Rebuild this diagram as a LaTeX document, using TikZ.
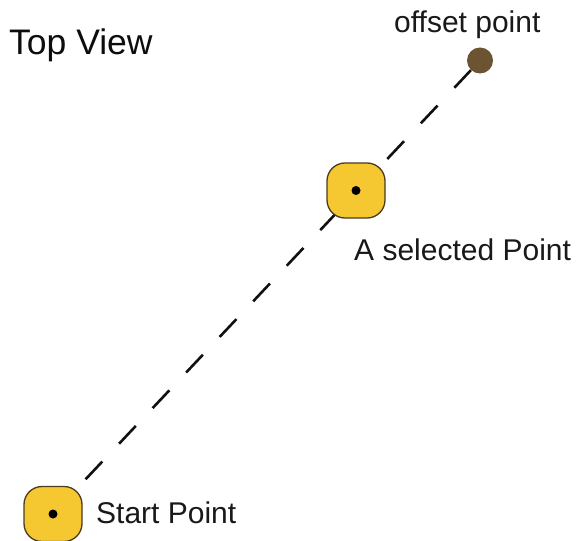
\documentclass[tikz,border=0pt]{standalone}
\usepackage{fontspec}
\setmainfont{Liberation Sans}
\usetikzlibrary{backgrounds}
\definecolor{ptyellow}{HTML}{F5C832}
\definecolor{ptedge}{HTML}{4A3C1E}
\definecolor{offbrown}{HTML}{6C5331}
\definecolor{linegray}{HTML}{111111}
\tikzset{
  ptbox/.style={draw=ptedge, line width=1.3pt, fill=ptyellow, rectangle, rounded corners=18pt,
    minimum width=58pt, minimum height=55pt, inner sep=0pt},
  ptdot/.style={circle, fill=black, minimum size=9pt, inner sep=0pt},
  offdot/.style={circle, fill=offbrown, minimum size=26pt, inner sep=0pt},
  lbl/.style={anchor=base west, inner sep=0pt, font=\fontsize{30}{36}\selectfont, text=black!90},
  ttl/.style={anchor=base west, inner sep=0pt, font=\fontsize{35.5}{42}\selectfont, text=black!95},
  dashline/.style={linegray, line width=2.6pt, dash pattern=on 24.4pt off 24.5pt}
}
\begin{document}
\begin{tikzpicture}[x=1pt, y=-1pt]
  \useasboundingbox (0,0) rectangle (577,540);
  \node[offdot] (op) at (480,60.5) {};
  \node[ptbox] (sp) at (53,514) {};
  \node[ptdot] (spd) at (sp.center) {};
  \node[ptbox] (sel) at (356,190.5) {};
  \node[ptdot] (seld) at (sel.center) {};
  \begin{pgfonlayer}{background}
    \draw[dashline, shorten <=9pt] (sp) -- (op);
  \end{pgfonlayer}
  \node[ttl] (title) at (9,55) {Top View};
  \node[lbl] (oplbl) at (394,33) {offset point};
  \node[lbl] (sellbl) at (354,260) {A selected Point};
  \node[lbl] (splbl) at (96,523) {Start Point};
\end{tikzpicture}
\end{document}
